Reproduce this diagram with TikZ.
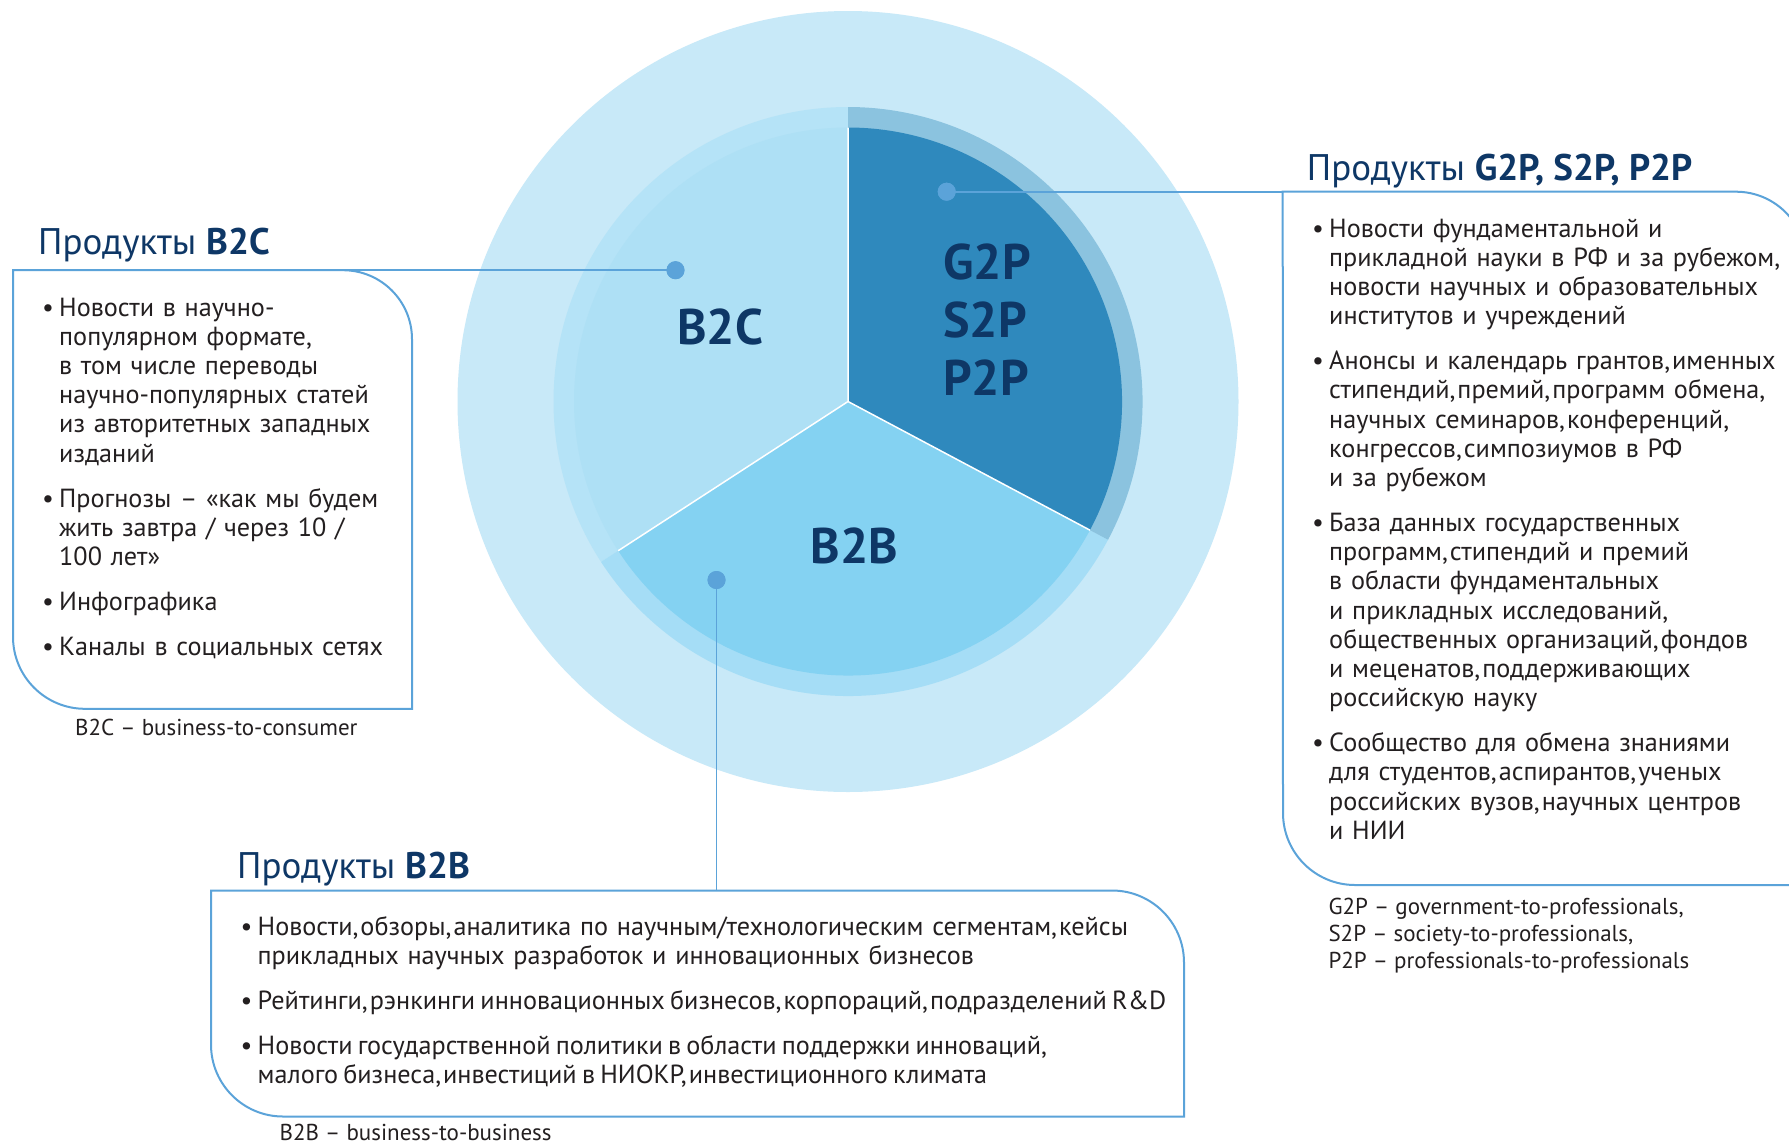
\documentclass[tikz,border=0pt]{standalone}
\usepackage{fontspec}
\setmainfont{PT Sans}
\definecolor{outerc}{HTML}{C8E9F8}
\definecolor{ringC}{HTML}{B5E3F7}
\definecolor{pieC}{HTML}{AEE0F5}
\definecolor{ringB}{HTML}{A5DDF6}
\definecolor{pieB}{HTML}{84D2F2}
\definecolor{ringG}{HTML}{8BC3DF}
\definecolor{pieG}{HTML}{2F89BD}
\definecolor{accent}{HTML}{5BA3D9}
\definecolor{navy}{HTML}{0E3766}
\definecolor{bodyc}{HTML}{231F20}
\newcommand{\bitem}[1]{\hangindent=17pt\hangafter=1\noindent\hbox to 17pt{\textbullet\hfil}#1\par}
\newcommand{\tc}{,\hspace{2pt}}
\tikzset{
 boxline/.style={draw=accent, line width=2pt},
 conn/.style={draw=accent, line width=1.6pt},
 dot/.style={circle, fill=accent, minimum size=18pt, inner sep=0pt},
 titletext/.style={anchor=base west, inner sep=0pt, text=navy, font=\fontsize{37}{40}\selectfont},
 bodytext/.style={anchor=base west, inner sep=0pt, text=bodyc, align=left, font=\fontsize{26.2}{29.2}\selectfont},
 notetext/.style={anchor=base west, inner sep=0pt, text=bodyc, align=left, font=\fontsize{23}{26.7}\selectfont},
 pielabel/.style={anchor=base west, text=navy, font=\fontsize{50}{58}\selectfont\bfseries, inner sep=0pt},
}
\begin{document}
\begin{tikzpicture}[x=1pt,y=1pt]
\useasboundingbox (0,0) rectangle (1789,-1144);
\fill[white] (0,0) rectangle (1789,-1144);
\coordinate (C) at (848,-401.5);
% circle
\fill[outerc] (C) circle[radius=390.5];
\fill[ringC] (C) -- +(90:294.5) arc[start angle=90,end angle=213,radius=294.5] -- cycle;
\fill[ringB] (C) -- +(213:294.5) arc[start angle=213,end angle=332,radius=294.5] -- cycle;
\fill[ringG] (C) -- +(-28:294.5) arc[start angle=-28,end angle=90,radius=294.5] -- cycle;
\fill[pieC] (C) -- +(90:274) arc[start angle=90,end angle=213,radius=274] -- cycle;
\fill[pieB] (C) -- +(213:274) arc[start angle=213,end angle=332,radius=274] -- cycle;
\fill[pieG] (C) -- +(-28:274) arc[start angle=-28,end angle=90,radius=274] -- cycle;
\draw[white, line width=1.5pt] (C) -- +(90:274) (C) -- +(-28:274) (C) -- +(213:274);
% pie labels
\node[pielabel] (lblC) at (677,-344.5) {B2C};
\node[pielabel] (lblG) at (943,-279.5) {G2P};
\node[pielabel] (lblS) at (943,-337.5) {S2P};
\node[pielabel] (lblP) at (943,-395) {P2P};
\node[pielabel] (lblB) at (810.5,-563.7) {B2B};
% boxes
\draw[boxline] (13,-270.2) -- (343,-270.2) arc[start angle=90,end angle=0,radius=69] -- (412,-708.8) -- (85,-708.8) arc[start angle=270,end angle=180,radius=72] -- cycle;
\draw[boxline] (1282.7,-191.7) -- (1736,-191.7) arc[start angle=90,end angle=0,radius=70] -- (1806,-885) -- (1355,-885) arc[start angle=270,end angle=180,radius=72] -- cycle;
\draw[boxline] (211,-890.5) -- (1112,-890.5) arc[start angle=90,end angle=0,radius=72] -- (1184,-1116.5) -- (283,-1116.5) arc[start angle=270,end angle=180,radius=72] -- cycle;
% connectors
\coordinate (joinC) at (343,-270.2);
\coordinate (joinG) at (1282.7,-191.7);
\coordinate (joinB) at (716.5,-890.5);
\node[dot] (dotC) at (675.5,-270.2) {};
\node[dot] (dotG) at (946.7,-191.7) {};
\node[dot] (dotB) at (716.5,-580) {};
\draw[conn] (joinC) -- (dotC.center);
\draw[conn] (dotG.center) -- (joinG);
\draw[conn] (dotB.center) -- (joinB);
\node[dot] at (dotC) {};
\node[dot] at (dotG) {};
\node[dot] at (dotB) {};
% titles
\node[titletext] (titC) at (38,-254.4) {Продукты \textbf{B2C}};
\node[titletext] (titG) at (1306.7,-180) {Продукты \textbf{G2P, S2P, P2P}};
\node[titletext] (titB) at (237,-878.3) {Продукты \textbf{B2B}};
% body texts
\node[bodytext, text width=500pt] (txtC) at (42,-316) {\setlength{\parskip}{15.8pt}%
\bitem{Новости в научно-\newline популярном формате,\newline в том числе переводы\newline научно-популярных статей\newline из авторитетных западных\newline изданий}%
\bitem{Прогнозы – «как мы будем\newline жить завтра / через 10 /\newline 100 лет»}%
\bitem{Инфографика}%
\bitem{Каналы в социальных сетях}};
\node[bodytext, text width=600pt] (txtG) at (1312,-237) {\setlength{\parskip}{15.8pt}%
\bitem{Новости фундаментальной и\newline прикладной науки в РФ и за рубежом,\newline новости научных и образовательных\newline институтов и учреждений}%
\bitem{Анонсы и календарь грантов\tc именных\newline стипендий\tc премий\tc программ обмена,\newline научных семинаров\tc конференций,\newline конгрессов\tc симпозиумов в РФ\newline и за рубежом}%
\bitem{База данных государственных\newline программ\tc стипендий и премий\newline в области фундаментальных\newline и прикладных исследований,\newline общественных организаций\tc фондов\newline и меценатов\tc поддерживающих\newline российскую науку}%
\bitem{Сообщество для обмена знаниями\newline для студентов\tc аспирантов\tc ученых\newline российских вузов\tc научных центров\newline и НИИ}};
\node[bodytext, text width=1100pt] (txtB) at (240.5,-935) {\setlength{\parskip}{15.8pt}%
\bitem{Новости\tc обзоры\tc аналитика по научным/технологическим сегментам\tc кейсы\newline прикладных научных разработок и инновационных бизнесов}%
\bitem{\spaceskip=0.75\fontdimen2\font plus 1pt Рейтинги\tc рэнкинги инновационных бизнесов\tc корпораций\tc подразделений R\&D}%
\bitem{Новости государственной политики в области поддержки инноваций,\newline малого бизнеса\tc инвестиций в НИОКР\tc инвестиционного климата}};
% notes
\node[notetext] (noteC) at (75,-735) {B2C – business-to-consumer};
\node[notetext] (noteG) at (1328.3,-968) {G2P – government-to-professionals,\\S2P – society-to-professionals,\\P2P – professionals-to-professionals};
\node[notetext] (noteB) at (279.5,-1140) {B2B – business-to-business};
\end{tikzpicture}
\end{document}
